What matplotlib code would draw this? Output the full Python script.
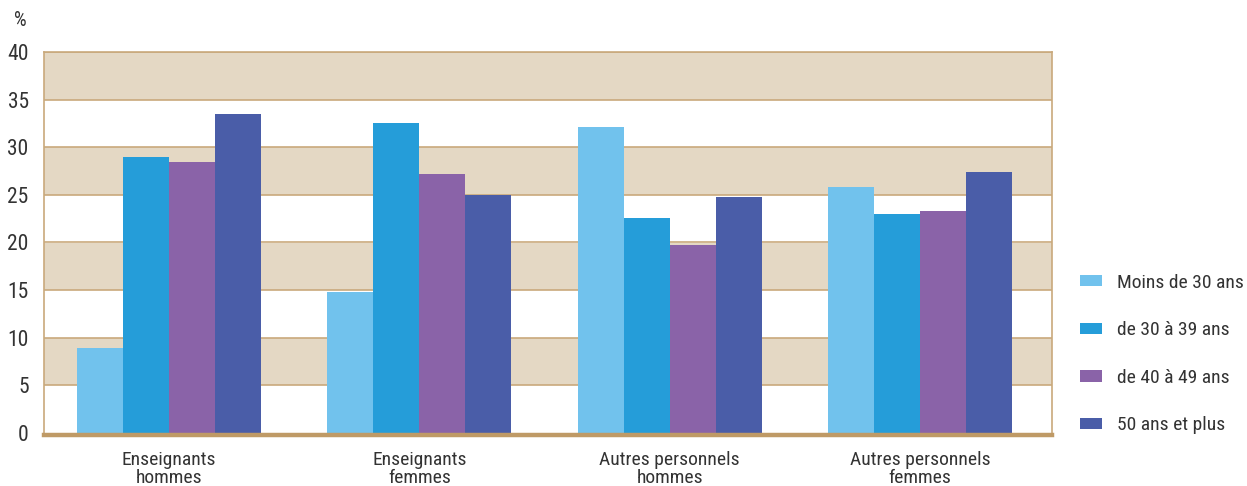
import numpy as np
import matplotlib.pyplot as plt
from matplotlib.patches import Patch

# Data (%)
categories = ["Enseignants\nhommes", "Enseignants\nfemmes",
              "Autres personnels\nhommes", "Autres personnels\nfemmes"]
series_names = ["Moins de 30 ans", "de 30 à 39 ans", "de 40 à 49 ans", "50 ans et plus"]
moins_30 = [8.9, 14.8, 32.1, 25.8]
de_30_39 = [29.0, 32.5, 22.6, 23.0]
de_40_49 = [28.5, 27.2, 19.7, 23.3]
plus_50 = [33.5, 25.0, 24.8, 27.4]
yticks = [0, 5, 10, 15, 20, 25, 30, 35, 40]

colors = ["#71C2ED", "#259DD9", "#8A63A8", "#4A5DA8"]
band_color = "#E4D8C4"
line_color = "#C9A97C"
text_color = "#333333"

plt.rcParams['font.family'] = ['Roboto Condensed', 'Liberation Sans Narrow', 'Roboto', 'DejaVu Sans']

fig = plt.figure(figsize=(12.47, 4.86), dpi=100)
ax = fig.add_axes([44 / 1247, 1 - 433 / 486, (1052 - 44) / 1247, (433 - 52) / 486])

# background bands and grid lines
for lo in [5, 15, 25, 35]:
    ax.axhspan(lo, lo + 5, color=band_color, zorder=0, lw=0)
for y in yticks[1:]:
    ax.axhline(y, color=line_color, lw=1.2, zorder=1)

x = np.arange(len(categories))
width = 0.184
all_series = [moins_30, de_30_39, de_40_49, plus_50]
for i, vals in enumerate(all_series):
    ax.bar(x + (i - 1.5) * width, vals, width, color=colors[i], zorder=2, linewidth=0)

# thick bottom axis line
ax.axhline(-0.2, color="#BF9A66", lw=3.2, zorder=3, clip_on=False)

ax.set_xlim(-0.5, 3.528)
ax.set_ylim(0, 40)
ax.set_yticks(yticks)
ax.set_yticklabels([str(v) for v in yticks], fontsize=15.5, color=text_color)
ax.set_xticks(x)
ax.set_xticklabels(categories, fontsize=14, color=text_color, linespacing=1.0)
ax.tick_params(axis='y', length=0, pad=11)
ax.tick_params(axis='x', length=0, pad=13)

for side in ["left", "right", "top"]:
    ax.spines[side].set_color(line_color)
    ax.spines[side].set_linewidth(1.2)
ax.spines["bottom"].set_visible(False)

fig.text(20 / 1247, 1 - 20 / 486, "%", fontsize=14.5, color=text_color, ha="center", va="center")

handles = [Patch(facecolor=c, edgecolor="none") for c in colors]
fig.legend(handles, series_names, loc="center left", bbox_to_anchor=(1080 / 1247, 1 - 354 / 486),
           frameon=False, fontsize=14, handlelength=1.13, handleheight=0.52,
           handletextpad=0.77, labelspacing=1.52, borderpad=0, borderaxespad=0,
           labelcolor=text_color)

fig.savefig("out.png", dpi=100)
